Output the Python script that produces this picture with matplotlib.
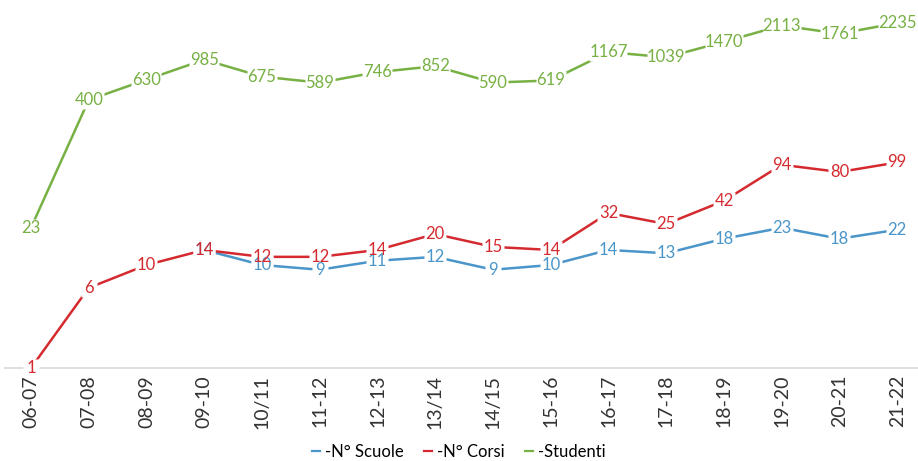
import numpy as np
import matplotlib
matplotlib.use("Agg")
import matplotlib.pyplot as plt
from matplotlib.lines import Line2D

plt.rcParams['font.family'] = ['Lato', 'DejaVu Sans']

years = ["06-07", "07-08", "08-09", "09-10", "10/11", "11-12", "12-13", "13/14",
         "14/15", "15-16", "16-17", "17-18", "18-19", "19-20", "20-21", "21-22"]
scuole = [np.nan, np.nan, np.nan, 14, 10, 9, 11, 12, 9, 10, 14, 13, 18, 23, 18, 22]
corsi = [1, 6, 10, 14, 12, 12, 14, 20, 15, 14, 32, 25, 42, 94, 80, 99]
studenti = [23, 400, 630, 985, 675, 589, 746, 852, 590, 619, 1167, 1039, 1470, 2113, 1761, 2235]

series = [("N° Scuole", scuole, "#4a95c9"),
          ("N° Corsi", corsi, "#d42a2f"),
          ("Studenti", studenti, "#77b043")]

fig = plt.figure(figsize=(9.18, 4.61), dpi=100)
ax = fig.add_axes([5/918, 93/461, 913/918, 368/461])
x = np.arange(len(years))

def knockout(n):
    # white rectangle marker sized for a label of n digits
    wpx = n * 7.5 + 8
    hpx = 18
    m = max(wpx, hpx)
    hw, hh = wpx / m, hpx / m
    verts = [(-hw, -hh), (hw, -hh), (hw, hh), (-hw, hh), (-hw, -hh)]
    return verts, m * 0.72

for i, (name, vals, col) in enumerate(series):
    ax.plot(x, vals, color=col, lw=1.8, zorder=2 + i)

for i, (name, vals, col) in enumerate(series):
    for xi, v in zip(x, vals):
        if np.isnan(v):
            continue
        s = f"{int(v)}"
        verts, ms = knockout(len(s))
        ax.plot([xi], [v], marker=verts, markersize=ms, mfc='white', mec='none',
                ls='none', zorder=5)
        ax.text(xi, v, s, color=col, fontsize=12, ha='center', va='center',
                zorder=6 + i)

ax.set_yscale('log')
ax.set_ylim(1, 10 ** (368 / 103))
ax.set_xlim(-0.45, 15.36)
ax.set_xticks(x)
ax.set_xticklabels(years, rotation=90, fontsize=14, color='#333333')
ax.tick_params(axis='x', length=0, pad=5)
ax.set_yticks([])
ax.yaxis.set_minor_locator(matplotlib.ticker.NullLocator())
for s in ['top', 'right', 'left']:
    ax.spines[s].set_visible(False)
ax.spines['bottom'].set_color('#d9d9d9')
ax.spines['bottom'].set_linewidth(1.2)
ax.spines['bottom'].set_zorder(1)

handles = [Line2D([0], [0], color=c, lw=1.6) for _, _, c in series]
labels = ["-" + n for n, _, _ in series]
fig.legend(handles, labels, loc='lower center', bbox_to_anchor=(0.5, -0.03), ncol=3,
           frameon=False, fontsize=12, handlelength=0.5, handletextpad=0.3,
           columnspacing=1.2)

fig.savefig("out.png", dpi=100)
